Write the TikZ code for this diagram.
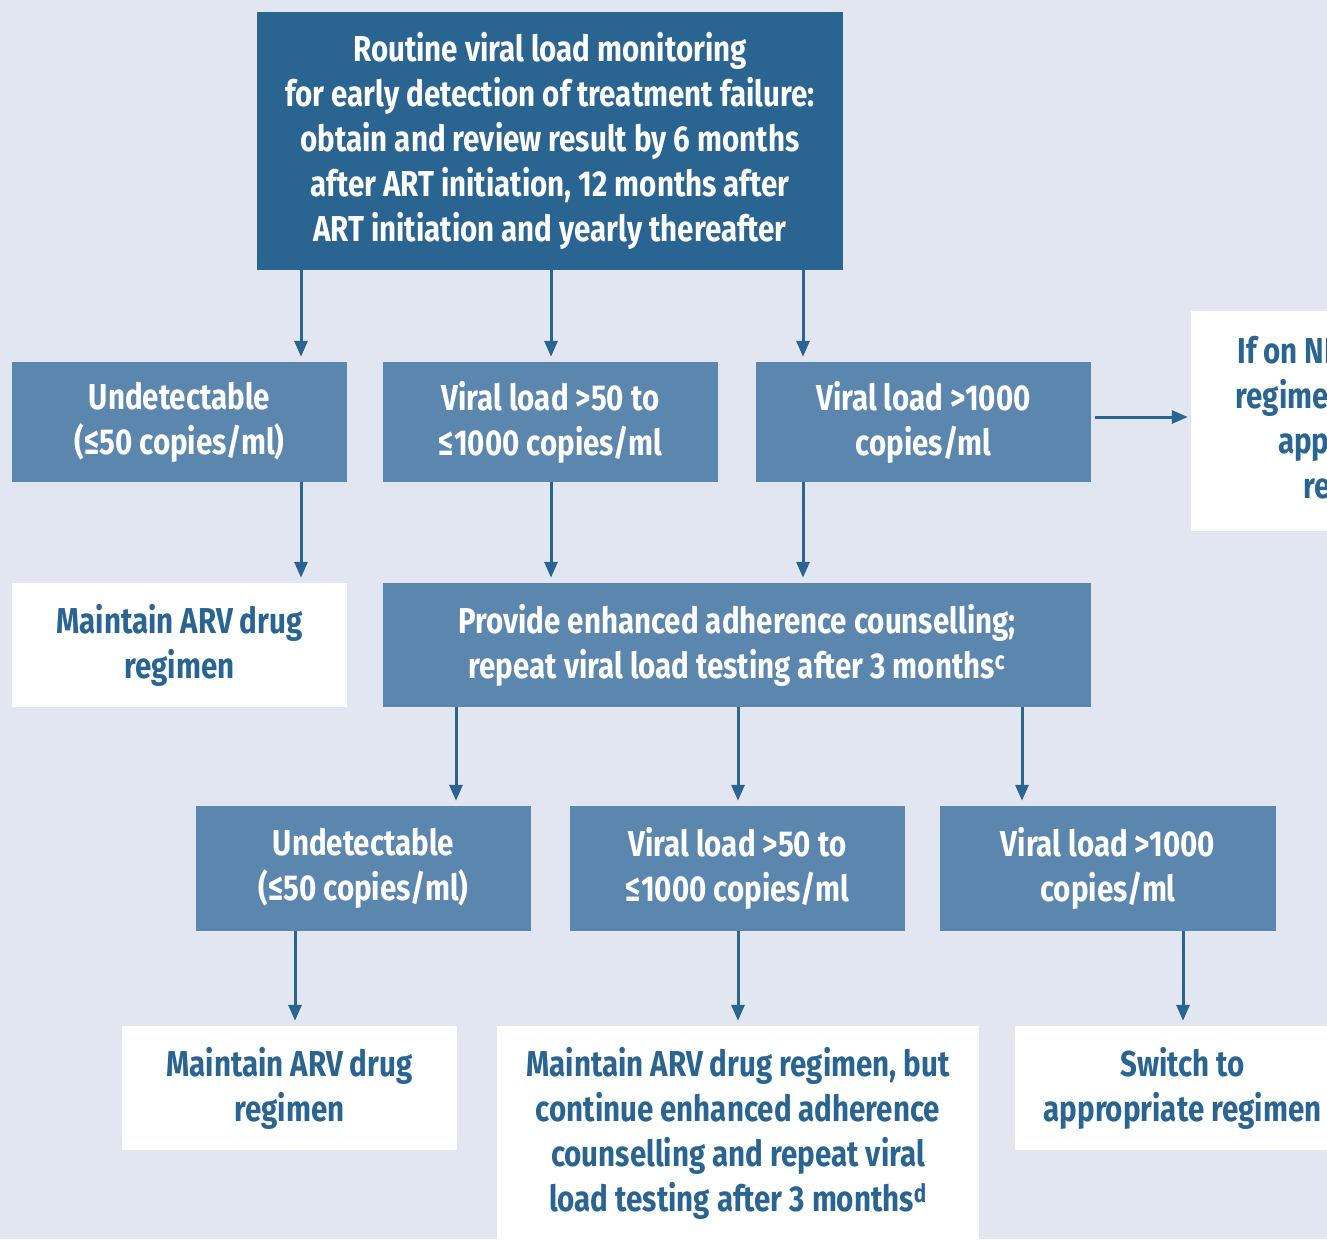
\documentclass[tikz,border=0pt]{standalone}
\usepackage{fontspec}
\setmainfont{Fira Sans}[FakeStretch=0.82]
\usetikzlibrary{arrows.meta}
\definecolor{bg}{RGB}{225,230,240}
\definecolor{darkblue}{RGB}{42,100,145}
\definecolor{midblue}{RGB}{91,135,174}
\tikzset{
  boxbase/.style={rectangle, inner sep=0pt, align=center,
    font=\fontsize{36}{45}\selectfont\bfseries},
  topbox/.style={boxbase, fill=darkblue, text=white},
  bluebox/.style={boxbase, fill=midblue, text=white},
  whitebox/.style={boxbase, fill=white, text=darkblue},
  arr/.style={draw=darkblue, line width=3pt,
    -{Triangle[length=16pt,width=13pt]}, shorten >=5pt},
}
\begin{document}
\begin{tikzpicture}[x=1pt,y=-1pt]
\useasboundingbox (0,0) rectangle (1327,1239);
\clip (0,0) rectangle (1327,1239);
\fill[bg] (0,0) rectangle (1327,1239);

% top box
\node[topbox, minimum width=586pt, minimum height=258pt] (T) at (550,141)
  {Routine viral load monitoring\\for early detection of treatment failure:\\obtain and review result by 6 months\\after ART initiation, 12 months after\\ART initiation and yearly thereafter};

% first results row
\node[bluebox, minimum width=335pt, minimum height=120pt] (A) at (179.5,422)
  {Undetectable\\(≤50 copies/ml)};
\node[bluebox, minimum width=335pt, minimum height=120pt] (B) at (550.5,422)
  {Viral load >50 to\\≤1000 copies/ml};
\node[bluebox, minimum width=335pt, minimum height=120pt] (C) at (923.5,422)
  {Viral load >1000\\copies/ml};
\node[whitebox, minimum width=335pt, minimum height=220pt] (R) at (1358.5,421)
  {If on NNRTI-based\\regimen, switch to\\appropriate\\regimen};

% second row
\node[whitebox, minimum width=335pt, minimum height=124pt] (D) at (179.5,645)
  {Maintain ARV drug\\regimen};
\node[bluebox, minimum width=708pt, minimum height=124pt] (E) at (737,645)
  {Provide enhanced adherence counselling;\\repeat viral load testing after 3 months\textsuperscript{c}};

% repeat results row
\node[bluebox, minimum width=335pt, minimum height=125pt] (F) at (363.5,868.5)
  {Undetectable\\(≤50 copies/ml)};
\node[bluebox, minimum width=335pt, minimum height=125pt] (G) at (737.5,868.5)
  {Viral load >50 to\\≤1000 copies/ml};
\node[bluebox, minimum width=336pt, minimum height=125pt] (H) at (1108,868.5)
  {Viral load >1000\\copies/ml};

% outcomes
\node[whitebox, minimum width=335pt, minimum height=124pt] (I) at (289.5,1088)
  {Maintain ARV drug\\regimen};
\node[whitebox, minimum width=482pt, minimum height=214pt] (J) at (738,1133)
  {Maintain ARV drug regimen, but\\continue enhanced adherence\\counselling and repeat viral\\load testing after 3 months\textsuperscript{d}};
\node[whitebox, minimum width=335pt, minimum height=124pt] (K) at (1182.5,1088)
  {Switch to\\appropriate regimen};

% arrow positions
\coordinate (x1) at (301,0);
\coordinate (x2) at (551,0);
\coordinate (x3) at (803,0);
\coordinate (x4) at (456,0);
\coordinate (x5) at (738,0);
\coordinate (x6) at (1022,0);
\coordinate (x7) at (295,0);
\coordinate (x8) at (1183,0);
\coordinate (y1) at (0,417);

\draw[arr] (T.south -| x1) -- (A.north -| x1);
\draw[arr] (T.south -| x2) -- (B.north -| x2);
\draw[arr] (T.south -| x3) -- (C.north -| x3);

\draw[arr] (A.south -| x1) -- (D.north -| x1);
\draw[arr] (B.south -| x2) -- (E.north -| x2);
\draw[arr] (C.south -| x3) -- (E.north -| x3);
\draw[arr, shorten <=4pt, shorten >=3pt] (C.east |- y1) -- (R.west |- y1);

\draw[arr] (E.south -| x4) -- (F.north -| x4);
\draw[arr] (E.south -| x5) -- (G.north -| x5);
\draw[arr] (E.south -| x6) -- (H.north -| x6);

\draw[arr] (F.south -| x7) -- (I.north -| x7);
\draw[arr] (G.south -| x5) -- (J.north -| x5);
\draw[arr] (H.south -| x8) -- (K.north -| x8);
\end{tikzpicture}
\end{document}
